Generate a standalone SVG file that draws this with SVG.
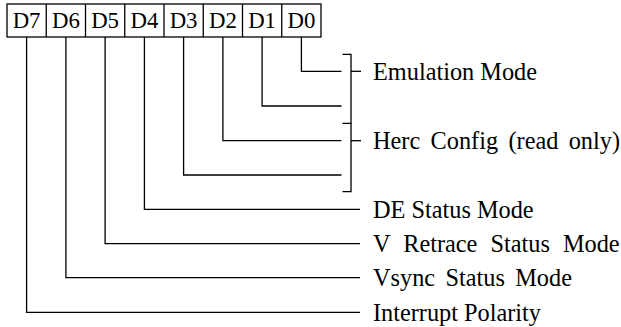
<svg xmlns="http://www.w3.org/2000/svg" width="621" height="327" viewBox="0 0 621 327">
<style>
  .ln { stroke: #000; stroke-width: 1.3; fill: none; }
  text { font-family: 'Liberation Serif', 'DejaVu Serif', serif; font-size: 24.3px; fill: #000; }
  .bit { text-anchor: middle; font-size: 22.8px; }
</style>
<rect width="621" height="327" fill="#fff"/>
<g id="register">
  <rect class="ln" x="7" y="4" width="314" height="33"/>
  <line class="ln" x1="46.25" y1="4" x2="46.25" y2="37"/>
  <line class="ln" x1="85.5" y1="4" x2="85.5" y2="37"/>
  <line class="ln" x1="124.75" y1="4" x2="124.75" y2="37"/>
  <line class="ln" x1="164" y1="4" x2="164" y2="37"/>
  <line class="ln" x1="203.25" y1="4" x2="203.25" y2="37"/>
  <line class="ln" x1="242.5" y1="4" x2="242.5" y2="37"/>
  <line class="ln" x1="281.75" y1="4" x2="281.75" y2="37"/>
  <text class="bit" x="26.6" y="28.3">D7</text>
  <text class="bit" x="65.9" y="28.3">D6</text>
  <text class="bit" x="105.1" y="28.3">D5</text>
  <text class="bit" x="144.4" y="28.3">D4</text>
  <text class="bit" x="183.6" y="28.3">D3</text>
  <text class="bit" x="222.9" y="28.3">D2</text>
  <text class="bit" x="262.1" y="28.3">D1</text>
  <text class="bit" x="301.4" y="28.3">D0</text>
</g>
<g id="connectors">
  <polyline class="ln" points="301.4,37 301.4,71.3 341.5,71.3"/>
  <polyline class="ln" points="262.1,37 262.1,106 341.5,106"/>
  <polyline class="ln" points="222.9,37 222.9,140.7 341.5,140.7"/>
  <polyline class="ln" points="183.6,37 183.6,175 341.5,175"/>
  <polyline class="ln" points="144.4,37 144.4,209.3 360,209.3"/>
  <polyline class="ln" points="105.1,37 105.1,243.7 360,243.7"/>
  <polyline class="ln" points="65.9,37 65.9,277.7 360,277.7"/>
  <polyline class="ln" points="26.6,37 26.6,312.3 360,312.3"/>
</g>
<g id="bracket-emulation">
  <polyline class="ln" points="342.5,54.3 351,54.3 351,123.3 342.5,123.3"/>
  <line class="ln" x1="351" y1="71.3" x2="361" y2="71.3"/>
  <text x="373" y="79.8">Emulation Mode</text>
</g>
<g id="bracket-herc">
  <polyline class="ln" points="351,123.3 351,191.7 342.5,191.7"/>
  <line class="ln" x1="351" y1="140.7" x2="361" y2="140.7"/>
  <text x="373" y="149.2" word-spacing="4.3">Herc Config (read only)</text>
</g>
<g id="label-de">
  <text x="373" y="217.8">DE Status Mode</text>
</g>
<g id="label-vretrace">
  <text x="373" y="252.2" word-spacing="7">V Retrace Status Mode</text>
</g>
<g id="label-vsync">
  <text x="373" y="286.2" word-spacing="4.3">Vsync Status Mode</text>
</g>
<g id="label-interrupt">
  <text x="373" y="320.8">Interrupt Polarity</text>
</g>
</svg>
